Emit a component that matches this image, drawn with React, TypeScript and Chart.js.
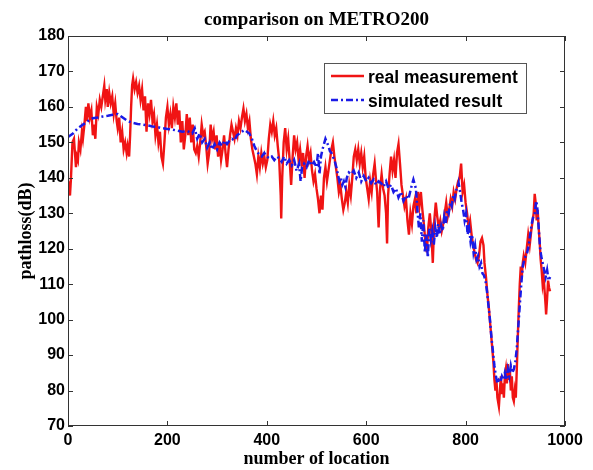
import React, { useEffect, useRef } from "react";
import { Chart, registerables } from "chart.js";

Chart.register(...registerables);

const titleText = "comparison on METRO200";
const xTitle = "number of location";
const yTitle = "pathloss(dB)";
const legendLabels = ["real measurement", "simulated result"];

const redLocation = [
  0, 2, 4, 6, 9, 12, 14, 16, 18, 20, 22, 25, 28, 30, 33, 36, 38, 41, 44, 47, 50, 52, 55, 58, 61, 64, 67, 70, 73, 75,
  78, 80, 83, 86, 89, 92, 95, 98, 100, 103, 106, 109, 112, 115, 118, 120, 123, 125, 127, 129, 131, 134, 137, 140, 143,
  146, 149, 152, 155, 158, 161, 164, 167, 170, 173, 176, 179, 182, 185, 188, 191, 194, 197, 200, 203, 206, 209, 212,
  215, 218, 221, 224, 227, 230, 233, 236, 239, 242, 245, 248, 251, 254, 257, 260, 263, 266, 269, 272, 275, 278, 281,
  284, 287, 290, 293, 296, 299, 302, 305, 308, 311, 314, 317, 320, 323, 326, 329, 332, 335, 338, 341, 344, 347, 350,
  353, 356, 359, 362, 365, 368, 371, 374, 377, 380, 383, 386, 389, 392, 395, 398, 401, 404, 407, 410, 413, 416, 419,
  422, 425, 428, 429, 431, 434, 437, 440, 443, 446, 449, 452, 455, 458, 461, 464, 467, 470, 473, 476, 479, 482, 485,
  488, 491, 494, 497, 500, 503, 506, 509, 512, 515, 518, 521, 524, 527, 530, 533, 536, 539, 542, 545, 548, 551, 554,
  557, 560, 563, 566, 569, 572, 575, 578, 581, 584, 587, 590, 593, 596, 599, 602, 605, 608, 611, 614, 617, 620, 622,
  625, 628, 631, 634, 637, 640, 642, 644, 647, 650, 653, 656, 659, 662, 665, 668, 671, 674, 677, 680, 683, 686, 689,
  692, 695, 698, 701, 704, 707, 710, 713, 716, 719, 722, 725, 728, 731, 734, 737, 740, 743, 746, 749, 752, 755, 758,
  761, 764, 767, 770, 773, 776, 779, 782, 785, 788, 791, 794, 797, 800, 803, 806, 809, 812, 815, 818, 821, 824, 827,
  830, 833, 836, 838, 841, 844, 847, 850, 853, 856, 858, 860, 862, 864, 867, 869, 871, 873, 875, 877, 879, 881, 883,
  885, 887, 889, 891, 893, 895, 897, 899, 901, 903, 905, 907, 909, 911, 913, 915, 917, 920, 923, 926, 929, 932, 935,
  937, 939, 941, 943, 945, 947, 949, 951, 953, 955, 957, 959, 961, 962, 964, 966, 968, 970,
];
const redPathloss = [
  139, 137, 135, 140, 150, 151, 147, 143, 146, 145, 150, 148, 153, 151, 155, 160, 156, 161, 157, 159, 152, 155, 151, 160,
  158, 162, 160, 163, 166, 162, 165, 160, 164, 161, 163, 158, 161, 156, 154, 157, 150, 153, 148, 150, 147, 149, 146, 152,
  160, 166, 168, 165, 167, 164, 166, 162, 165, 159, 163, 153, 161, 158, 162, 156, 158, 152, 155, 150, 153, 146, 144, 150,
  157, 160, 155, 158, 154, 160, 157, 161, 155, 159, 150, 156, 148, 152, 158, 152, 157, 150, 155, 148, 147, 149, 146, 150,
  155, 152, 153, 149, 144, 147, 155, 151, 153, 148, 152, 146, 150, 145, 148, 152, 147, 143, 148, 152, 155, 153, 151, 154,
  152, 156, 154, 157, 159.5, 156, 158, 154, 156, 151, 148, 146, 144, 141, 146, 143, 147, 144, 146, 143, 145, 151, 155,
  153, 156, 152, 154, 149, 145, 135, 128.5, 140, 150, 154, 148, 151, 145, 138, 146, 152, 148, 150, 145, 148, 144, 147,
  140, 146, 149, 145, 147, 142, 139, 141, 137, 134, 130, 135, 131, 140, 143, 139, 142, 145, 148, 150, 146, 143, 140, 136,
  138, 134, 131, 133, 136, 133, 138, 135, 140, 146, 148, 145, 148, 144, 147, 143, 146, 140, 137, 134, 139, 136, 141, 144,
  139, 136, 126, 137, 141, 137, 135, 130, 121.5, 135, 141, 146, 142, 145, 140, 147, 149.5, 144, 138, 135, 132, 134, 128,
  124, 130, 127, 132, 134, 130, 136, 132, 136, 131, 127, 122, 119, 126, 130, 125, 116, 128, 133, 129, 126, 128, 125, 127,
  130, 133, 129, 131, 134, 132, 136, 134, 137, 139, 140, 144, 136, 138, 133, 130, 126, 128, 124, 121, 119, 117, 116, 118,
  122, 123, 121, 116, 112, 107, 103, 98, 93, 88, 83, 80, 83, 78, 75.5, 80, 84, 79, 82, 78, 84, 86, 82, 87.5, 83, 86, 80,
  84, 78, 77, 80, 78, 86, 95, 103, 110, 115, 112, 116, 118, 116, 120, 124, 121, 125, 128, 130, 135.5, 133, 128, 131, 126,
  122, 117, 114, 110, 112, 108, 104, 101.5, 106, 111, 109, 108,
];

const simLocation = [
  0, 10, 20, 30, 40, 50, 60, 70, 80, 90, 100, 110, 120, 130, 140, 150, 160, 170, 180, 190, 200, 210, 220, 230, 240, 250,
  255, 260, 265, 270, 275, 280, 285, 290, 295, 300, 305, 310, 315, 320, 325, 330, 335, 340, 345, 350, 355, 360, 365, 370,
  375, 380, 385, 390, 395, 400, 405, 410, 415, 420, 425, 430, 435, 440, 445, 450, 455, 460, 465, 468, 471, 475, 480, 485,
  490, 495, 500, 503, 506, 509, 512, 515, 518, 521, 524, 527, 530, 533, 536, 540, 543, 546, 549, 552, 555, 558, 561, 565,
  570, 575, 580, 585, 590, 595, 600, 605, 610, 615, 620, 625, 630, 635, 640, 645, 650, 655, 660, 665, 670, 675, 680, 685,
  690, 695, 700, 703, 706, 709, 712, 715, 718, 721, 724, 727, 730, 733, 736, 739, 742, 745, 748, 751, 754, 757, 760, 763,
  766, 769, 772, 775, 778, 781, 784, 786, 789, 792, 795, 798, 801, 804, 807, 810, 813, 816, 819, 822, 825, 828, 831, 834,
  837, 840, 843, 846, 849, 852, 855, 858, 861, 864, 867, 870, 873, 876, 879, 882, 885, 888, 891, 894, 897, 900, 903, 906,
  909, 912, 915, 918, 921, 924, 927, 930, 933, 936, 939, 942, 944, 946, 948, 950, 952, 955, 958, 961, 964, 967, 970,
];
const simPathloss = [
  151.5, 152.5, 154, 155, 156, 156.8, 157, 157.3, 157.5, 157.8, 158, 157, 156, 155.5, 155.2, 155, 154.8, 154.5, 154.3, 154,
  153.8, 153.6, 153.3, 153, 153.2, 152.5, 154, 151, 152.5, 150, 151, 148.5, 150, 148, 149.5, 148, 150, 149, 150.5, 149.5,
  150.5, 151, 150.5, 152, 152.5, 153, 153.5, 153, 152.5, 151, 149, 147.5, 146.5, 146, 147, 146, 145.5, 146, 145, 146,
  145.5, 144.5, 146, 144, 145, 143.5, 145, 142, 144, 139, 143, 144, 143, 145, 143.5, 144.5, 143, 147, 141, 146, 148, 149.5,
  151, 150, 149, 147.5, 147, 146, 145, 143, 141, 139, 140, 138, 139, 137.5, 140, 141.5, 141, 142, 140, 141.5, 139, 140.5,
  139, 140, 138.5, 139.5, 138, 139, 138.5, 137.5, 139, 137, 138, 136, 137, 134.5, 136, 133.5, 135, 134, 137, 139.5, 137,
  131, 126, 130, 122, 128, 119, 124, 117.5, 126, 122.5, 125, 121, 126, 123, 127, 124, 126.5, 125, 129, 127, 131, 130, 133,
  132, 135, 134, 136.5, 137, 138.5, 136, 133, 131, 128, 130, 124, 126, 122, 124, 119, 121, 117, 118, 115, 116, 113, 112.5,
  111, 108, 104, 100, 95, 91, 87, 84, 82, 83, 82.5, 84, 83, 85, 83, 86, 84, 87, 85, 86, 88, 92, 98, 104, 110, 115, 117,
  118, 119, 121, 124, 127, 129, 130, 133.5, 132, 128, 124, 120, 118, 116, 114, 112, 114, 111, 112,
];

const xTicks = [0, 200, 400, 600, 800, 1000];
const yTicks = [70, 80, 90, 100, 110, 120, 130, 140, 150, 160, 170, 180];

const RED = "#f01414";
const BLUE = "#1a1ae6";
const BLUE_DASH = [7, 3, 2, 3];

const decorPlugin = {
  id: "decor",
  afterDraw(chart: any) {
    const { ctx, chartArea } = chart;
    const { left, right, top, bottom } = chartArea;
    const xs = chart.scales.x;
    const ys = chart.scales.y;
    ctx.save();
    ctx.strokeStyle = "#333";
    ctx.lineWidth = 1;
    ctx.strokeRect(left + 0.5, top + 0.5, right - left - 1, bottom - top - 1);
    const tl = 5;
    ctx.beginPath();
    xTicks.forEach((v) => {
      const px = Math.round(xs.getPixelForValue(v)) + 0.5;
      ctx.moveTo(px, bottom);
      ctx.lineTo(px, bottom - tl);
      ctx.moveTo(px, top);
      ctx.lineTo(px, top + tl);
    });
    yTicks.forEach((v) => {
      const py = Math.round(ys.getPixelForValue(v)) + 0.5;
      ctx.moveTo(left, py);
      ctx.lineTo(left + tl, py);
      ctx.moveTo(right, py);
      ctx.lineTo(right - tl, py);
    });
    ctx.stroke();

    ctx.fillStyle = "#000";
    ctx.textAlign = "center";
    ctx.textBaseline = "alphabetic";
    ctx.font = 'bold 19px "Liberation Serif", "Times New Roman", serif';
    ctx.fillText(titleText, (left + right) / 2, 25);
    ctx.font = 'bold 18px "Liberation Serif", "Times New Roman", serif';
    ctx.fillText(xTitle, (left + right) / 2, 464);
    ctx.save();
    ctx.translate(31, (top + bottom) / 2);
    ctx.rotate(-Math.PI / 2);
    ctx.fillText(yTitle, 0, 0);
    ctx.restore();

    const lx = 324, ly = 63, lw = 202, lh = 50;
    ctx.fillStyle = "#fff";
    ctx.fillRect(lx, ly, lw, lh);
    ctx.strokeStyle = "#555";
    ctx.lineWidth = 1;
    ctx.strokeRect(lx + 0.5, ly + 0.5, lw, lh);
    ctx.lineWidth = 2.5;
    ctx.strokeStyle = RED;
    ctx.beginPath();
    ctx.moveTo(331, 76);
    ctx.lineTo(364, 76);
    ctx.stroke();
    ctx.strokeStyle = BLUE;
    ctx.setLineDash(BLUE_DASH);
    ctx.beginPath();
    ctx.moveTo(331, 100);
    ctx.lineTo(364, 100);
    ctx.stroke();
    ctx.setLineDash([]);
    ctx.fillStyle = "#000";
    ctx.textAlign = "left";
    ctx.font = 'bold 17.5px "Liberation Sans", Arial, sans-serif';
    ctx.fillText(legendLabels[0], 368, 83);
    ctx.fillText(legendLabels[1], 368, 107);
    ctx.restore();
  },
};

export default function App() {
  const ref = useRef<HTMLCanvasElement | null>(null);
  useEffect(() => {
    if (!ref.current) return;
    const chart = new Chart(ref.current, {
      type: "line",
      data: {
        datasets: [
          {
            label: legendLabels[1],
            data: simLocation.map((x, i) => ({ x, y: simPathloss[i] })),
            borderColor: BLUE,
            borderWidth: 2.5,
            borderDash: BLUE_DASH,
            pointRadius: 0,
            tension: 0,
            fill: false,
            order: 0,
          },
          {
            label: legendLabels[0],
            data: redLocation.map((x, i) => ({ x, y: redPathloss[i] })),
            borderColor: RED,
            borderWidth: 2.4,
            pointRadius: 0,
            tension: 0,
            fill: false,
            order: 1,
          },
        ],
      },
      options: {
        responsive: false,
        animation: false,
        events: [],
        layout: { padding: { left: 0, right: 28, top: 36, bottom: 0 } },
        plugins: { legend: { display: false }, title: { display: false }, tooltip: { enabled: false } },
        scales: {
          x: {
            type: "linear",
            min: 0,
            max: 1000,
            afterFit: (s: any) => {
              s.height = 44;
            },
            afterBuildTicks: (s: any) => {
              s.ticks = xTicks.map((v) => ({ value: v }));
            },
            grid: { display: false, drawTicks: false },
            border: { display: false },
            ticks: {
              color: "#000",
              padding: 5,
              maxRotation: 0,
              callback: (v: any) => String(v),
              font: { family: '"Liberation Sans", Arial, sans-serif', size: 16, weight: "bold" },
            },
          },
          y: {
            type: "linear",
            min: 70,
            max: 180,
            afterFit: (s: any) => {
              s.width = 68;
            },
            afterBuildTicks: (s: any) => {
              s.ticks = yTicks.map((v) => ({ value: v }));
            },
            grid: { display: false, drawTicks: false },
            border: { display: false },
            ticks: {
              color: "#000",
              padding: 3,
              callback: (v: any) => String(v),
              font: { family: '"Liberation Sans", Arial, sans-serif', size: 16, weight: "bold" },
            },
          },
        },
      },
      plugins: [decorPlugin],
    });
    return () => chart.destroy();
  }, []);
  return (
    <div style={{ position: "absolute", left: 0, top: 0, width: 593, height: 470, background: "#fff" }}>
      <canvas ref={ref} width={593} height={470} style={{ width: 593, height: 470 }} />
    </div>
  );
}
